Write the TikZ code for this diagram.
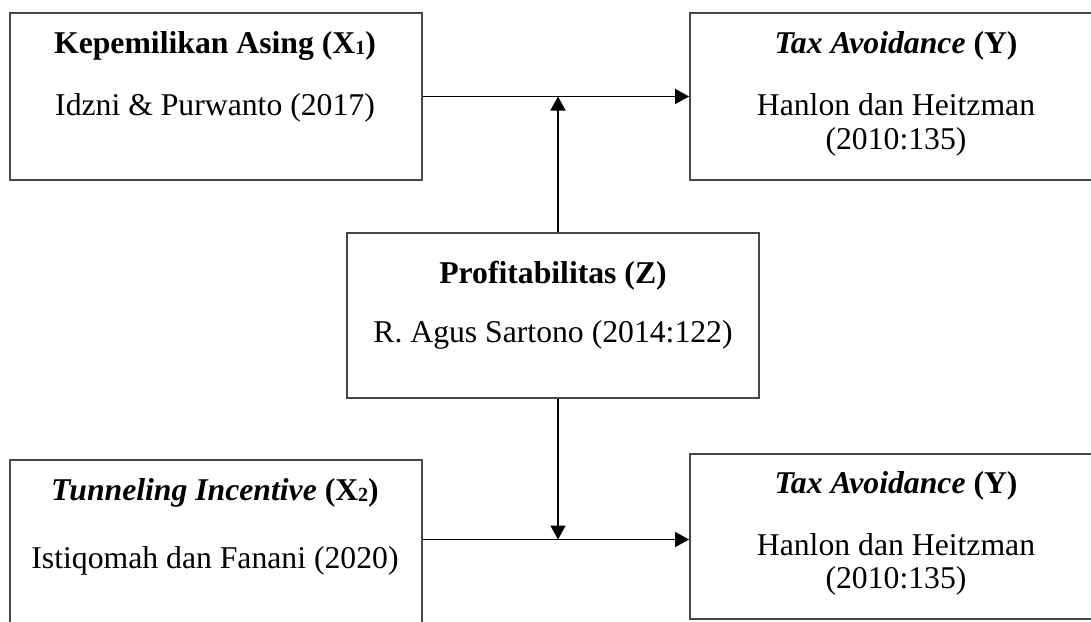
\documentclass[tikz,border=0pt]{standalone}
\usepackage{fontspec}
\setmainfont{Liberation Serif}
\usetikzlibrary{arrows.meta}
\newcommand{\subn}[1]{\raisebox{-1.5pt}{\fontsize{20}{20}\selectfont #1}}
\begin{document}
\begin{tikzpicture}[x=1pt,y=-1pt,
  box/.style={draw=black!72, line width=1.8pt, minimum width=412pt, minimum height=167pt, inner sep=0pt},
  txt/.style={anchor=base, inner sep=0pt, font=\fontsize{31.7}{35}\selectfont},
  conn/.style={draw=black, line width=1.5pt, -{Triangle[length=14pt,width=15pt]}}]
\clip (0,0) rectangle (1091,621);
\fill[white] (0,0) rectangle (1091,621);
% boxes
\node[box] (TL) at (216,96.5) {};
\node[box] (TR) at (896,96.5) {};
\node[box, minimum height=165pt] (M) at (553,315.5) {};
\node[box] (BL) at (216,543.5) {};
\node[box, minimum height=165pt] (BR) at (896,536.5) {};
% texts
\node[txt] (tl1) at (215,53) {\textbf{Kepemilikan Asing (X\subn{1})}};
\node[txt] (tl2) at (215,115) {Idzni \& Purwanto (2017)};
\node[txt] (tr1) at (896,53) {\textbf{\textit{Tax Avoidance} (Y)}};
\node[txt] (tr2) at (896,115) {Hanlon dan Heitzman};
\node[txt] (tr3) at (896,149) {(2010:135)};
\node[txt] (m1) at (553,283) {\textbf{Profitabilitas (Z)}};
\node[txt] (m2) at (553,342) {R. Agus Sartono (2014:122)};
\node[txt] (bl1) at (215,500) {\textbf{\textit{Tunneling Incentive} (X\subn{2})}};
\node[txt] (bl2) at (215,568) {Istiqomah dan Fanani (2020)};
\node[txt] (br1) at (896,493) {\textbf{\textit{Tax Avoidance} (Y)}};
\node[txt] (br2) at (896,555) {Hanlon dan Heitzman};
\node[txt] (br3) at (896,588) {(2010:135)};
% connectors
\coordinate (j1) at (558,96.5);
\coordinate (j2) at (558,539.5);
\draw[conn] (TL.east) -- (TR.west);
\draw[conn] (M.north -| j1) -- (j1);
\draw[conn] (j2 -| BL.east) -- (j2 -| BR.west);
\draw[conn] (M.south -| j2) -- (j2);
\end{tikzpicture}
\end{document}
